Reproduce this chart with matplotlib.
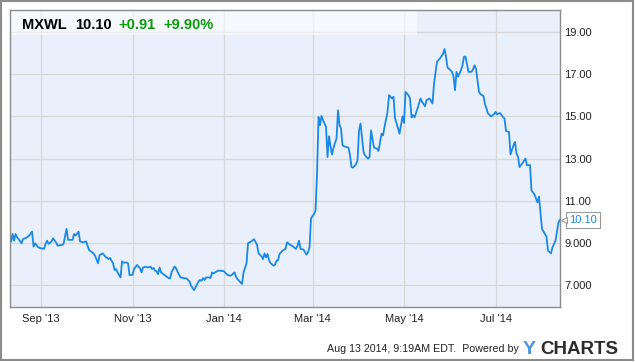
import matplotlib
matplotlib.use("Agg")
import matplotlib.pyplot as plt
import matplotlib.patches as patches
import matplotlib.transforms as mtransforms
import pandas as pd

plt.rcParams["font.family"] = ["Liberation Sans", "DejaVu Sans"]

# header quote
ticker = "MXWL"
last_price = "10.10"
change = "+0.91"
change_pct = "+9.90%"
footer = "Aug 13 2014, 9:19AM EDT.  Powered by"

# daily closes
dates = [
    "2013-08-12", "2013-08-13", "2013-08-14", "2013-08-15", "2013-08-16", "2013-08-17",
    "2013-08-19", "2013-08-20", "2013-08-22", "2013-08-24", "2013-08-26", "2013-08-27",
    "2013-08-28", "2013-08-30", "2013-09-01", "2013-09-03", "2013-09-04", "2013-09-05",
    "2013-09-06", "2013-09-08", "2013-09-09", "2013-09-11", "2013-09-12", "2013-09-15",
    "2013-09-16", "2013-09-18", "2013-09-19", "2013-09-21", "2013-09-22", "2013-09-23",
    "2013-09-24", "2013-09-26", "2013-09-27", "2013-09-29", "2013-10-01", "2013-10-02",
    "2013-10-03", "2013-10-06", "2013-10-07", "2013-10-09", "2013-10-10", "2013-10-12",
    "2013-10-14", "2013-10-16", "2013-10-17", "2013-10-19", "2013-10-20", "2013-10-21",
    "2013-10-22", "2013-10-24", "2013-10-25", "2013-10-26", "2013-10-28", "2013-10-29",
    "2013-10-30", "2013-11-01", "2013-11-02", "2013-11-04", "2013-11-06", "2013-11-07",
    "2013-11-08", "2013-11-10", "2013-11-11", "2013-11-13", "2013-11-14", "2013-11-15",
    "2013-11-16", "2013-11-17", "2013-11-18", "2013-11-19", "2013-11-20", "2013-11-21",
    "2013-11-23", "2013-11-25", "2013-11-26", "2013-11-27", "2013-11-29", "2013-11-30",
    "2013-12-01", "2013-12-03", "2013-12-05", "2013-12-07", "2013-12-08", "2013-12-09",
    "2013-12-10", "2013-12-12", "2013-12-14", "2013-12-15", "2013-12-16", "2013-12-17",
    "2013-12-18", "2013-12-19", "2013-12-20", "2013-12-22", "2013-12-23", "2013-12-24",
    "2013-12-25", "2013-12-26", "2013-12-28", "2013-12-30", "2014-01-01", "2014-01-03",
    "2014-01-05", "2014-01-06", "2014-01-08", "2014-01-09", "2014-01-10", "2014-01-13",
    "2014-01-14", "2014-01-16", "2014-01-17", "2014-01-19", "2014-01-21", "2014-01-23",
    "2014-01-24", "2014-01-26", "2014-01-27", "2014-01-28", "2014-01-29", "2014-01-30",
    "2014-01-31", "2014-02-01", "2014-02-03", "2014-02-04", "2014-02-05", "2014-02-06",
    "2014-02-07", "2014-02-09", "2014-02-11", "2014-02-12", "2014-02-14", "2014-02-16",
    "2014-02-18", "2014-02-19", "2014-02-20", "2014-02-21", "2014-02-23", "2014-02-25",
    "2014-02-26", "2014-02-27", "2014-02-28", "2014-03-02", "2014-03-03", "2014-03-04",
    "2014-03-05", "2014-03-06", "2014-03-07", "2014-03-08", "2014-03-10", "2014-03-11",
    "2014-03-12", "2014-03-13", "2014-03-14", "2014-03-15", "2014-03-17", "2014-03-18",
    "2014-03-19", "2014-03-20", "2014-03-21", "2014-03-22", "2014-03-25", "2014-03-26",
    "2014-03-27", "2014-03-28", "2014-03-30", "2014-03-31", "2014-04-01", "2014-04-02",
    "2014-04-04", "2014-04-05", "2014-04-07", "2014-04-08", "2014-04-09", "2014-04-10",
    "2014-04-11", "2014-04-13", "2014-04-14", "2014-04-16", "2014-04-17", "2014-04-18",
    "2014-04-20", "2014-04-21", "2014-04-23", "2014-04-24", "2014-04-25", "2014-04-26",
    "2014-04-28", "2014-04-30", "2014-05-01", "2014-05-02", "2014-05-04", "2014-05-05",
    "2014-05-06", "2014-05-07", "2014-05-08", "2014-05-10", "2014-05-12", "2014-05-13",
    "2014-05-15", "2014-05-16", "2014-05-18", "2014-05-20", "2014-05-21", "2014-05-23",
    "2014-05-25", "2014-05-26", "2014-05-27", "2014-05-28", "2014-05-29", "2014-05-30",
    "2014-06-02", "2014-06-03", "2014-06-04", "2014-06-05", "2014-06-06", "2014-06-08",
    "2014-06-09", "2014-06-10", "2014-06-11", "2014-06-13", "2014-06-15", "2014-06-16",
    "2014-06-17", "2014-06-18", "2014-06-20", "2014-06-21", "2014-06-23", "2014-06-24",
    "2014-06-26", "2014-06-28", "2014-06-30", "2014-07-01", "2014-07-02", "2014-07-04",
    "2014-07-06", "2014-07-07", "2014-07-08", "2014-07-10", "2014-07-11", "2014-07-13",
    "2014-07-14", "2014-07-15", "2014-07-16", "2014-07-17", "2014-07-19", "2014-07-21",
    "2014-07-22", "2014-07-24", "2014-07-25", "2014-07-27", "2014-07-29", "2014-07-30",
    "2014-07-31", "2014-08-01", "2014-08-04", "2014-08-05", "2014-08-07", "2014-08-08",
    "2014-08-10", "2014-08-12", "2014-08-13",
]
prices = [
    9.08, 9.43, 9.11, 9.43, 9.27, 9.19,
    8.99, 9.19, 9.24, 9.35, 9.54, 8.83,
    8.99, 8.80, 8.75, 8.73, 8.96, 9.11,
    8.96, 9.08, 9.22, 9.03, 8.88, 8.91,
    8.96, 9.67, 9.15, 9.15, 9.15, 9.43,
    9.35, 9.54, 9.08, 9.03, 9.08, 8.88,
    8.67, 8.51, 8.40, 8.04, 8.43, 8.51,
    8.35, 8.24, 8.29, 8.04, 7.72, 7.77,
    7.61, 7.37, 8.13, 8.07, 8.08, 8.04,
    7.48, 7.50, 7.77, 7.96, 7.80, 7.61,
    7.84, 7.88, 7.84, 7.88, 7.77, 7.82,
    7.69, 7.66, 7.53, 7.84, 7.61, 7.56,
    7.45, 7.34, 7.32, 7.61, 7.89, 7.80,
    7.64, 7.37, 7.34, 7.32, 7.25, 7.18,
    6.98, 6.77, 7.04, 7.18, 7.25, 7.21,
    7.34, 7.25, 7.37, 7.37, 7.34, 7.61,
    7.56, 7.61, 7.69, 7.69, 7.66, 7.50,
    7.45, 7.48, 7.61, 7.40, 7.29, 7.06,
    7.61, 8.04, 8.99, 9.07, 9.18, 8.92,
    8.51, 8.37, 8.24, 8.51, 8.32, 8.48,
    8.19, 8.05, 7.93, 7.97, 8.16, 8.19,
    8.48, 8.64, 8.72, 9.03, 8.92, 8.84,
    8.72, 8.88, 9.11, 8.72, 8.69, 8.45,
    8.56, 8.80, 10.17, 10.38, 10.54, 12.28,
    14.97, 14.58, 15.02, 14.82, 14.50, 13.07,
    14.06, 13.58, 13.20, 13.52, 13.95, 15.29,
    14.58, 14.42, 13.63, 13.58, 13.52, 13.15,
    12.60, 12.57, 12.73, 12.92, 14.34, 14.66,
    13.31, 13.15, 13.00, 13.07, 14.34, 13.91,
    13.52, 13.47, 13.36, 14.18, 14.10, 14.50,
    15.21, 16.01, 15.85, 15.93, 14.90, 14.69,
    14.18, 15.00, 14.69, 16.16, 16.00, 15.85,
    14.95, 15.06, 14.95, 15.37, 15.85, 15.69,
    15.48, 15.77, 15.85, 15.61, 16.56, 17.59,
    17.75, 17.86, 17.95, 18.19, 17.83, 17.32,
    17.11, 16.88, 16.24, 17.11, 16.88, 17.19,
    17.43, 17.83, 17.83, 17.11, 17.11, 17.23,
    17.42, 17.25, 16.16, 16.05, 15.96, 15.58,
    15.14, 15.00, 15.10, 15.21, 15.10, 15.16,
    14.97, 14.90, 14.31, 14.26, 13.20, 13.63,
    13.79, 13.23, 13.10, 12.60, 12.79, 13.00,
    12.68, 12.70, 11.49, 11.30, 10.93, 11.20,
    10.46, 9.67, 9.30, 8.64, 8.51, 8.80,
    9.11, 9.98, 10.10,
]

tick_dates = ["2013-09-01", "2013-11-01", "2014-01-01", "2014-03-01", "2014-05-01", "2014-07-01"]
tick_labels = ["Sep '13", "Nov '13", "Jan '14", "Mar '14", "May '14", "Jul '14"]
y_ticks = [7, 9, 11, 13, 15, 17, 19]
y_labels = ["7.000", "9.000", "11.00", "13.00", "15.00", "17.00", "19.00"]

line_color = "#1a88e6"
W, H = 635, 362


def fx(px):
    return px / W


def fy(py):
    return 1 - py / H


fig = plt.figure(figsize=(W / 100, H / 100), dpi=100)
fig.patch.set_facecolor("white")
ax = fig.add_axes([fx(10), fy(307), fx(560) - fx(10), fy(10) - fy(307)])
ax.set_facecolor("#eaf0fb")

x = pd.to_datetime(dates)
ax.plot(x, prices, color=line_color, lw=1.3, zorder=3, solid_joinstyle="round")

ax.set_xlim(pd.Timestamp("2013-08-11 07:00"), pd.Timestamp("2014-08-13"))
ax.set_ylim(5.97, 20.04)

ax.set_xticks(pd.to_datetime(tick_dates))
ax.set_xticklabels(tick_labels)
ax.set_yticks(y_ticks)
ax.set_yticklabels(y_labels)
ax.yaxis.tick_right()
ax.tick_params(axis="both", length=0, labelsize=8, colors="#222222")
ax.tick_params(axis="x", pad=5)
ax.tick_params(axis="y", pad=3)

ax.grid(True, color="#d8d8d8", lw=1)
ax.set_axisbelow(True)
for s in ax.spines.values():
    s.set_color("#8c8c8c")
    s.set_linewidth(1)

# lighter header band
ax.add_patch(patches.Rectangle((0, 1 - 25 / 297), 407 / 550, 25 / 297, transform=ax.transAxes,
                               facecolor="white", alpha=0.55, edgecolor="none", zorder=2))

# header text
fig.text(fx(22), fy(29), ticker, fontsize=10.5, weight="bold", color="black", va="baseline")
fig.text(fx(75), fy(29), last_price, fontsize=10.5, weight="bold", color="black", va="baseline")
fig.text(fx(118), fy(29), change, fontsize=10.5, weight="bold", color="#0a9a0a", va="baseline")
fig.text(fx(163), fy(29), change_pct, fontsize=10.5, weight="bold", color="#0a9a0a", va="baseline")

# last value tag
ax.annotate(f"{prices[-1]:.2f}", xy=(x[-1], prices[-1]), xytext=(6.5, 0), textcoords="offset points",
            ha="left", va="center", fontsize=8, color=line_color, annotation_clip=False, zorder=5,
            bbox=dict(boxstyle="square,pad=0.25", fc="white", ec="#9a9a9a", lw=0.8))
tri = mtransforms.offset_copy(ax.transData, fig=fig, x=3, y=0, units="points")
ax.plot([x[-1]], [prices[-1]], marker="<", ms=5, mfc="white", mec="#9a9a9a", mew=0.8,
        transform=tri, clip_on=False, zorder=6)

# footer
fig.text(fx(519), fy(352.5), footer, fontsize=7.7, color="#222222", ha="right", va="baseline")
fig.text(fx(523), fy(354), "Y", fontsize=14, weight="bold", color="#4a94da", va="baseline")
fig.text(fx(540), fy(354), "CHARTS", fontsize=13.5, weight="bold", color="#2b2b2b", va="baseline")

# outer frame
fig.add_artist(patches.Rectangle((fx(1), fy(360)), fx(633) - fx(1), fy(1) - fy(360),
                                 transform=fig.transFigure, fill=False, edgecolor="#8c8c8c", lw=1.5))

fig.savefig("out.png", dpi=100)
